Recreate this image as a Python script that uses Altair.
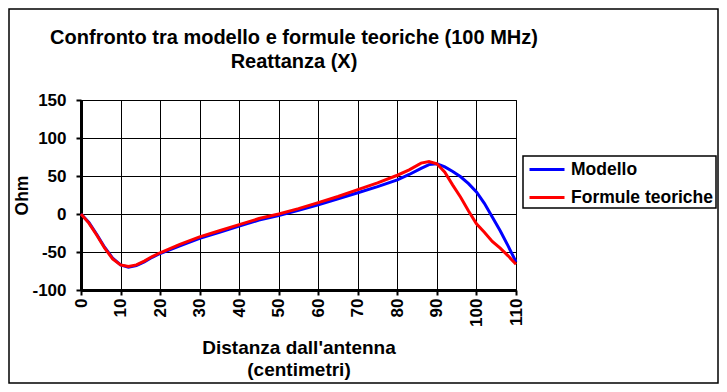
import altair as alt
import pandas as pd

x_mod = [0, 2, 4, 6, 8, 10, 12, 14, 16, 18, 20, 25, 30, 35, 40, 45, 50, 55, 60, 65, 70, 75, 80, 83, 86, 88, 90, 92, 94, 96, 98, 100, 102, 104, 106, 108, 110]
y_mod = [0, -11, -27, -44, -58, -67, -70, -68, -63, -57, -52, -42, -32, -24, -16, -8, -2, 5, 12, 20, 28, 36, 45, 52, 60, 65, 66, 62, 56, 49, 40, 29, 14, -4, -22, -42, -63]

x_teo = [0, 2, 4, 6, 8, 10, 12, 14, 16, 18, 20, 25, 30, 35, 40, 45, 50, 55, 60, 65, 70, 75, 80, 83, 86, 88, 90, 92, 94, 96, 98, 100, 102, 104, 106, 108, 110]
y_teo = [0, -12, -28, -45, -59, -67, -69, -67, -62, -56, -51, -40, -30, -22, -14, -6, 0, 7, 15, 23, 32, 41, 51, 58, 67, 69, 66, 55, 38, 22, 4, -13, -24, -36, -45, -55, -66]

series = ["Modello", "Formule teoriche"]
colors = ["#0000FF", "#FF0000"]
x_ticks = list(range(0, 111, 10))
y_ticks = [-100, -50, 0, 50, 100, 150]
title_lines = ["Confronto tra modello e formule teoriche (100 MHz)", "Reattanza (X)"]
x_title = ["Distanza dall'antenna", "(centimetri)"]
y_title = "Ohm"

df_mod = pd.DataFrame({"x": x_mod, "y": y_mod, "s": series[0]})
df_teo = pd.DataFrame({"x": x_teo, "y": y_teo, "s": series[1]})

FONT = "Liberation Sans"

xs = alt.X("x:Q", scale=alt.Scale(domain=[0, 110], nice=False),
           axis=alt.Axis(values=x_ticks, title=x_title,
                         labelAngle=270, labelAlign="right", labelBaseline="middle",
                         labelFontSize=17, labelFontWeight="bold", labelPadding=3,
                         titleFontSize=19, titleFontWeight="bold", titleLineHeight=22,
                         titlePadding=12,
                         tickSize=5, tickColor="black", tickWidth=2,
                         domainColor="black", domainWidth=3,
                         grid=True, gridColor="black", gridWidth=1, gridOpacity=1))
ys = alt.Y("y:Q", scale=alt.Scale(domain=[-100, 150], nice=False),
           axis=alt.Axis(values=y_ticks, title=y_title,
                         labelExpr="datum.value < 0 ? '-' + abs(datum.value) : '' + datum.value",
                         labelFontSize=17, labelFontWeight="bold", labelPadding=10,
                         titleFontSize=17.5, titleFontWeight="bold", titlePadding=0,
                         tickSize=5, tickColor="black", tickWidth=2,
                         domainColor="black", domainWidth=3,
                         grid=True, gridColor="black", gridWidth=1, gridOpacity=1))

leg = alt.Legend(title=None, orient="none", legendX=447, legendY=50.5,
                 symbolType="stroke", symbolStrokeWidth=3, symbolSize=1225,
                 labelFontSize=17.5, labelFontWeight="bold", labelColor="black",
                 labelOffset=5, padding=0, rowPadding=-9, labelLimit=300)

def col():
    return alt.Color("s:N", scale=alt.Scale(domain=series, range=colors), legend=leg)

line_mod = alt.Chart(df_mod).mark_line(strokeWidth=3).encode(x=xs, y=ys, color=col())
line_teo = alt.Chart(df_teo).mark_line(strokeWidth=3).encode(x=xs, y=ys, color=col())

one = pd.DataFrame({"a": [0]})
border = alt.Chart(one).mark_rect(
    fill=None, stroke="black", strokeWidth=1.5, clip=False
).encode(x=alt.value(-72), x2=alt.value(637), y=alt.value(-91), y2=alt.value(283))
legend_box = alt.Chart(one).mark_rect(
    fill=None, stroke="black", strokeWidth=1.5, clip=False
).encode(x=alt.value(442), x2=alt.value(635), y=alt.value(56), y2=alt.value(108))

t1 = alt.Chart(one).mark_text(font=FONT, fontSize=20, fontWeight="bold", color="black",
                              align="center", baseline="middle").encode(
    x=alt.value(213), y=alt.value(-62), text=alt.value(title_lines[0]))
t2 = alt.Chart(one).mark_text(font=FONT, fontSize=20, fontWeight="bold", color="black",
                              align="center", baseline="middle").encode(
    x=alt.value(213), y=alt.value(-38), text=alt.value(title_lines[1]))

chart = alt.layer(line_mod, line_teo, border, legend_box, t1, t2).properties(
    width=435, height=190,
    padding={"left": 73, "top": 92, "right": 203, "bottom": 94},
    autosize=alt.AutoSizeParams(type="none"),
).configure(font=FONT).configure_view(stroke="black", strokeWidth=1).configure_axis(
    labelFont=FONT, titleFont=FONT, labelColor="black", titleColor="black"
).configure_legend(labelFont=FONT)

chart.save("out.html", embed_options={"renderer": "svg", "actions": False})
